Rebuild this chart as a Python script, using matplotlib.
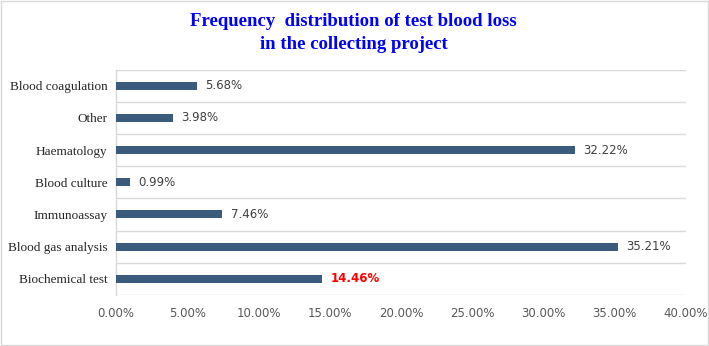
import numpy as np
import matplotlib.pyplot as plt
from matplotlib.patches import Rectangle

categories = ['Biochemical test', 'Blood gas analysis', 'Immunoassay', 'Blood culture',
              'Haematology', 'Other', 'Blood coagulation']
values = [14.46, 35.21, 7.46, 0.99, 32.22, 3.98, 5.68]
xticks = [0, 5, 10, 15, 20, 25, 30, 35, 40]

bar_color = '#3B5B7D'
grid_color = '#D9D9D9'

fig = plt.figure(figsize=(7.09, 3.46), dpi=100)
ax = fig.add_axes([0.1636, 0.1474, 0.9676 - 0.1636, 0.7991 - 0.1474])

y = np.arange(len(categories))
ax.barh(y, values, height=0.25, color=bar_color, zorder=3)

for i, v in enumerate(values):
    if categories[i] == 'Biochemical test':
        ax.annotate('%.2f%%' % v, (v, i), xytext=(6, 0), textcoords='offset points',
                    va='center', ha='left', fontsize=8.5, color='#FF0000',
                    fontweight='bold', family='DejaVu Sans')
    else:
        ax.annotate('%.2f%%' % v, (v, i), xytext=(6, 0), textcoords='offset points',
                    va='center', ha='left', fontsize=8.5, color='#404040',
                    family='DejaVu Sans')

ax.set_xlim(0, 40)
ax.set_ylim(-0.5, len(categories) - 0.5)
ax.set_xticks(xticks)
ax.set_xticklabels(['%.2f%%' % t for t in xticks], fontsize=8.5, color='#595959',
                   family='DejaVu Sans')
ax.set_yticks(y)
ax.set_yticklabels(categories, fontsize=9.5, color='#262626', family='Liberation Serif')
ax.set_yticks(np.arange(-0.5, len(categories)), minor=True)
ax.tick_params(axis='both', which='both', length=0)
ax.tick_params(axis='y', pad=6)
ax.tick_params(axis='x', pad=9)
ax.grid(axis='y', which='minor', color=grid_color, linewidth=1, zorder=0)
ax.grid(axis='y', which='major', visible=False)

for s in ['top', 'right', 'bottom']:
    ax.spines[s].set_visible(False)
ax.spines['left'].set_color(grid_color)
ax.spines['left'].set_linewidth(1)

fig.text(0.4985, 0.905, 'Frequency  distribution of test blood loss\nin the collecting project',
         ha='center', va='center', fontsize=13.5, fontweight='bold', color='#0000FF',
         family='Liberation Serif', linespacing=1.45)

fig.patches.append(Rectangle((0.001, 0.002), 0.997, 0.995, transform=fig.transFigure,
                             fill=False, edgecolor='#D9D9D9', linewidth=1))

fig.savefig('out.png', dpi=100)
